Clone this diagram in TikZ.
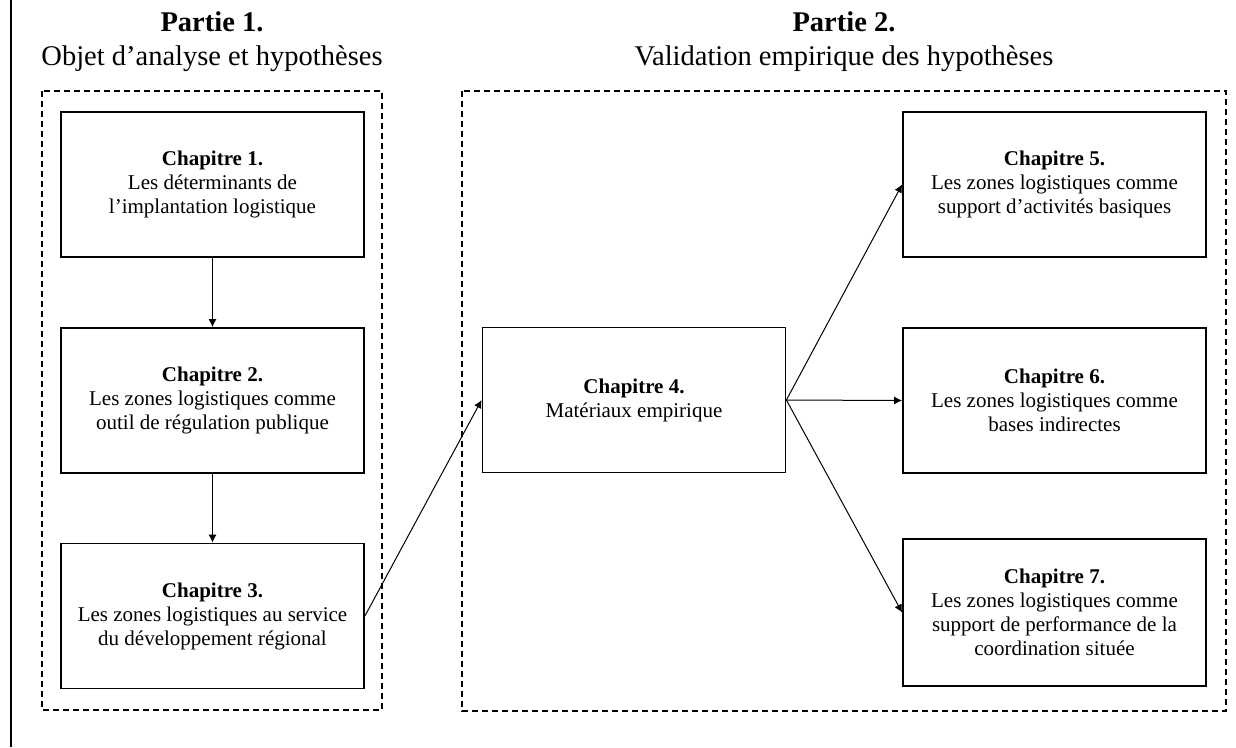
\documentclass[tikz,border=0pt]{standalone}
\usepackage{fontspec}
\setmainfont{Liberation Serif}
\usetikzlibrary{arrows.meta}

\begin{document}
\begin{tikzpicture}[x=1pt,y=-1pt,
    chap/.style={draw,line width=1.8pt,minimum width=303pt,minimum height=145pt,
        inner sep=0pt,align=center,font=\fontsize{21}{24}\selectfont},
    partie/.style={align=center,font=\fontsize{28.5}{34}\selectfont},
    fleche/.style={-{Latex[length=8pt,width=8pt]},line width=1pt},
    cadre/.style={dash pattern=on 6pt off 4pt,line width=1.6pt}]

\useasboundingbox (0,0) rectangle (1236,747);
\draw[line width=2.8pt] (11,0) -- (11,747);

% parties
\node[partie] (p1) at (212,42) {\textbf{Partie 1.}\\Objet d'analyse et hypothèses};
\node[partie] (p2) at (844,42) {\textbf{Partie 2.}\\Validation empirique des hypothèses};
\draw[cadre] (42,91) rectangle (382,710);
\draw[cadre] (462,91) rectangle (1226,711);

% chapitres
\node[chap] (c1) at (212.5,184.5) {\textbf{Chapitre 1.}\\Les déterminants de\\l'implantation logistique};
\node[chap] (c2) at (212.5,400.5) {\textbf{Chapitre 2.}\\Les zones logistiques comme\\outil de régulation publique};
\node[chap] (c3) at (212.5,616) {\textbf{Chapitre 3.}\\Les zones logistiques au service\\du développement régional};
\node[chap] (c4) at (634,400) {\textbf{Chapitre 4.}\\Matériaux empirique};
\node[chap] (c5) at (1054.5,184.5) {\textbf{Chapitre 5.}\\Les zones logistiques comme\\support d'activités basiques};
\node[chap] (c6) at (1054.5,400.5) {\textbf{Chapitre 6.}\\Les zones logistiques comme\\bases indirectes};
\node[chap,minimum height=147pt] (c7) at (1054.5,612.5) {\textbf{Chapitre 7.}\\Les zones logistiques comme\\support de performance de la\\coordination située};

% liens
\draw[fleche] (c1) -- (c2);
\draw[fleche] (c2) -- (c3);
\draw[fleche] (c3.east) -- (c4.west);
\draw[fleche] (c4.east) -- (c5.west);
\draw[fleche] (c4.east) -- (c6.west);
\draw[fleche] (c4.east) -- (c7.west);

\end{tikzpicture}
\end{document}
